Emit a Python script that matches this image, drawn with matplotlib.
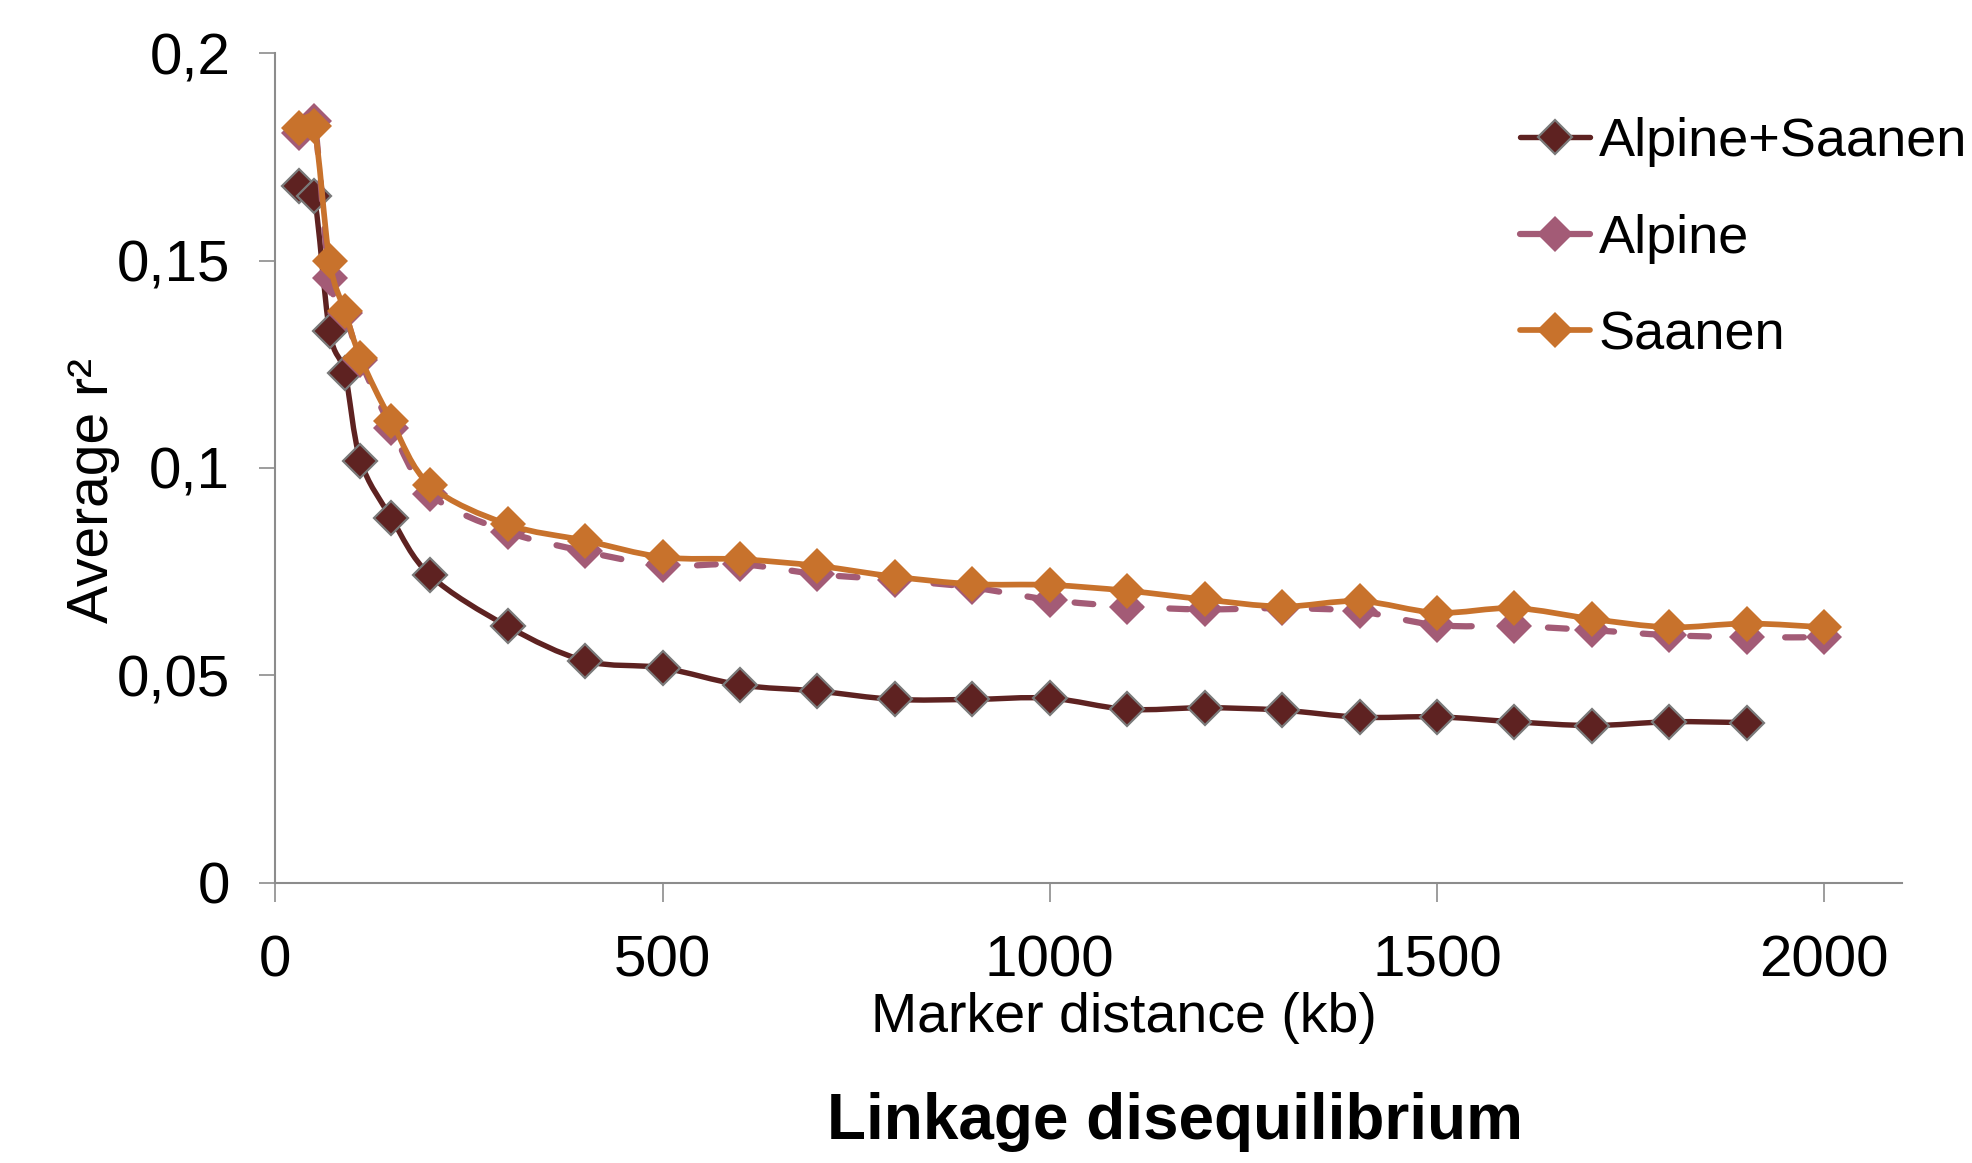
import numpy as np
import matplotlib
matplotlib.use("Agg")
import matplotlib.pyplot as plt
from matplotlib.path import Path
from matplotlib.patches import PathPatch
from matplotlib.lines import Line2D

plt.rcParams['font.family'] = ['Liberation Sans', 'DejaVu Sans']

# ---------------- data ----------------
series_names = ["Alpine+Saanen", "Alpine", "Saanen"]
x_alpine_saanen = [30, 50, 70, 90, 110, 150, 200, 300, 400, 500, 600, 700, 800, 900,
                   1000, 1100, 1200, 1300, 1400, 1500, 1600, 1700, 1800, 1900]
y_alpine_saanen = [0.1680, 0.1656, 0.1330, 0.1228, 0.1018, 0.0879, 0.0741, 0.0618, 0.0535,
                   0.0518, 0.0477, 0.0462, 0.0442, 0.0442, 0.0445, 0.0418, 0.0422, 0.0416,
                   0.0399, 0.0400, 0.0388, 0.0379, 0.0388, 0.0386]
x_alpine = [30, 50, 70, 90, 110, 150, 200, 300, 400, 500, 600, 700, 800, 900,
            1000, 1100, 1200, 1300, 1400, 1500, 1600, 1700, 1800, 1900, 2000]
y_alpine = [0.1808, 0.1837, 0.1458, 0.1373, 0.1260, 0.1096, 0.0937, 0.0846, 0.0799,
            0.0765, 0.0768, 0.0744, 0.0730, 0.0712, 0.0682, 0.0666, 0.0659, 0.0662,
            0.0654, 0.0621, 0.0619, 0.0609, 0.0597, 0.0592, 0.0592]
x_saanen = [30, 50, 70, 90, 110, 150, 200, 300, 400, 500, 600, 700, 800, 900,
            1000, 1100, 1200, 1300, 1400, 1500, 1600, 1700, 1800, 1900, 2000]
y_saanen = [0.1821, 0.1825, 0.1500, 0.1378, 0.1266, 0.1113, 0.0958, 0.0864, 0.0825,
            0.0785, 0.0780, 0.0764, 0.0738, 0.0720, 0.0718, 0.0704, 0.0683, 0.0666,
            0.0679, 0.0651, 0.0662, 0.0636, 0.0616, 0.0625, 0.0616]
x_ticks = [0, 500, 1000, 1500, 2000]
x_tick_labels = ["0", "500", "1000", "1500", "2000"]
y_ticks = [0, 0.05, 0.1, 0.15, 0.2]
y_tick_labels = ["0", "0,05", "0,1", "0,15", "0,2"]

# ---------------- style ----------------
W, H = 1972, 1163
DPI = 100
c_dark = "#5E2221"
c_pink = "#A35B76"
c_orange = "#C8722C"
c_edge = "#7A7A7A"
c_axis = "#8C8C8C"


def smooth_path(x, y):
    pts = np.column_stack([x, y]).astype(float)
    n = len(pts)
    verts = [pts[0]]
    codes = [Path.MOVETO]
    for i in range(n - 1):
        p0 = pts[i - 1] if i > 0 else pts[i]
        p1 = pts[i]
        p2 = pts[i + 1]
        p3 = pts[i + 2] if i + 2 < n else pts[i + 1]
        verts += [p1 + (p2 - p0) / 6.0, p2 - (p3 - p1) / 6.0, p2]
        codes += [Path.CURVE4] * 3
    return Path(verts, codes)


fig = plt.figure(figsize=(W / DPI, H / DPI), dpi=DPI)
L, R, T, B = 275.3, 1901.7, 53.3, 882.7
ax = fig.add_axes([L / W, 1 - B / H, (R - L) / W, (B - T) / H])
ax.set_xlim(0, 2100)
ax.set_ylim(0, 0.2)

specs = [
    (x_alpine_saanen, y_alpine_saanen, c_dark, '-', 3.9, 17.0, c_edge, 1.6, 3),
    (x_alpine, y_alpine, c_pink, (0, (3.0, 4.6)), 4.5, 18.0, c_pink, 0.0, 4),
    (x_saanen, y_saanen, c_orange, '-', 4.1, 18.5, c_orange, 0.0, 5),
]
handles = []
for (xs, ys, col, ls, lw, ms, mec, mew, z), name in zip(specs, series_names):
    patch = PathPatch(smooth_path(xs, ys), fill=False, edgecolor=col, lw=lw,
                      linestyle=ls, capstyle='round', joinstyle='round', zorder=z)
    ax.add_patch(patch)
    ax.plot(xs, ys, linestyle='none', marker='D', ms=ms, mfc=col, mec=mec,
            mew=mew, zorder=z + 0.5)
    handles.append(Line2D([0], [0], color=col, lw=lw, linestyle='-',
                          solid_capstyle='round',
                          marker='D', ms=ms, mfc=col, mec=mec, mew=mew, label=name))

for s in ['top', 'right']:
    ax.spines[s].set_visible(False)
for s in ['left', 'bottom']:
    ax.spines[s].set_color(c_axis)
    ax.spines[s].set_linewidth(1.5)

ax.set_xticks(x_ticks)
ax.set_xticklabels(x_tick_labels)
ax.set_yticks(y_ticks)
ax.set_yticklabels(y_tick_labels)
ax.tick_params(axis='x', direction='out', length=13.5, width=1.2, color=c_axis,
               pad=24, labelsize=42)
ax.tick_params(axis='y', direction='out', length=11.5, width=1.2, color=c_axis,
               pad=21, labelsize=42)

fig.text(93 / W, 1 - 490 / H, "Average r²", rotation=90, ha='center', va='center',
         fontsize=41)
fig.text(1124 / W, 1 - 1018 / H, "Marker distance (kb)", ha='center', va='center',
         fontsize=40)
fig.text(1175 / W, 1 - 1122 / H, "Linkage disequilibrium", ha='center', va='center',
         fontsize=46, fontweight='bold')

fig.legend(handles=handles, loc='upper left',
           bbox_to_anchor=(1520 / W, 1 - 117 / H), bbox_transform=fig.transFigure,
           frameon=False, fontsize=39, handlelength=1.3, handletextpad=0.15,
           labelspacing=0.86, borderpad=0, borderaxespad=0, numpoints=1)

fig.savefig("out.png", dpi=DPI)
